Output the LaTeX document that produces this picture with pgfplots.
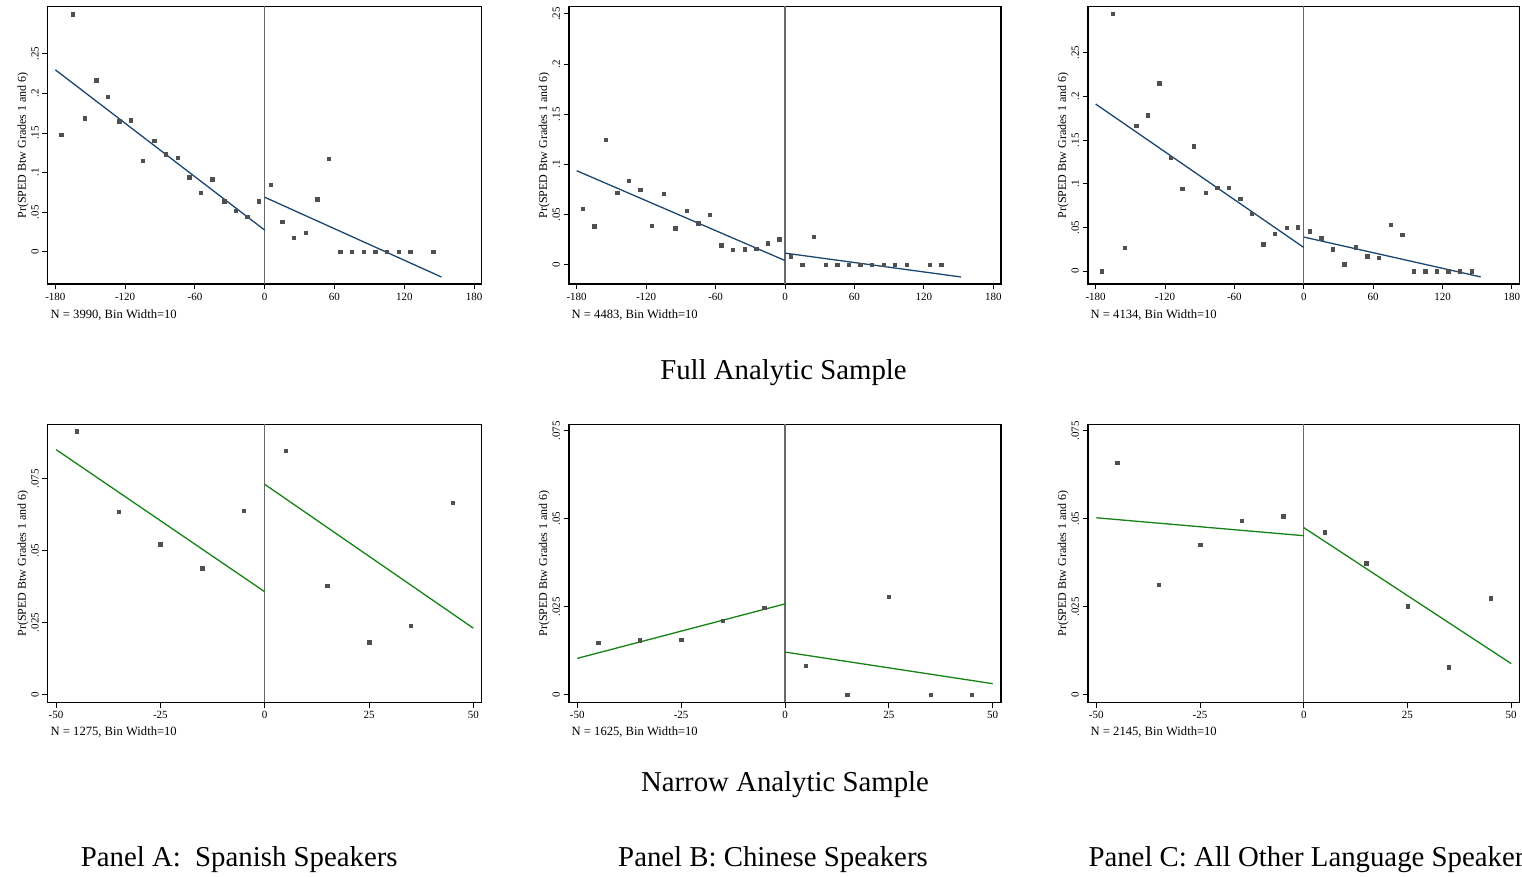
\documentclass[border=0pt]{standalone}
\usepackage{fontspec}
\setmainfont{Liberation Serif}
\usepackage{pgfplots}
\pgfplotsset{compat=1.18}
\definecolor{stnavy}{RGB}{26,71,111}
\definecolor{stgreen}{RGB}{20,130,20}
\definecolor{mk}{RGB}{80,80,80}
\definecolor{vl}{RGB}{105,105,105}
\pgfplotsset{
  rd/.style={
    scale only axis,
    anchor=south west,
    axis line style={black, line width=1.2pt},
    tick style={black, line width=1pt},
    tick align=outside,
    major tick length=5.5pt,
    xtick pos=bottom, ytick pos=left,
    scaled x ticks=false, scaled y ticks=false,
    ticklabel style={font=\fontsize{11}{13}\selectfont},
    yticklabel style={rotate=90, anchor=south},
    ylabel={Pr(SPED Btw Grades 1 and 6)},
    ylabel style={font=\fontsize{12}{14}\selectfont},
    ylabel shift=-4pt,
    clip=true,
  },
  top/.style={rd, xmin=-186.6, xmax=186.6,
    xtick={-180,-120,-60,0,60,120,180},
    xticklabels={-180,-120,-60,0,60,120,180},
    ytick={0,0.05,0.1,0.15,0.2,0.25},
    yticklabels={0,.05,.1,.15,.2,.25}},
  bot/.style={rd, xmin=-52, xmax=52,
    xtick={-50,-25,0,25,50},
    xticklabels={-50,-25,0,25,50},
    ytick={0,0.025,0.05,0.075},
    yticklabels={0,.025,.05,.075}},
  dots/.style={only marks, mark=square*, mark size=1.7pt, mark options={fill=mk, draw=mk}},
  fitb/.style={no marks, color=stnavy, line width=1.3pt},
  fitg/.style={no marks, color=stgreen, line width=1.3pt},
}
\newcommand{\cutline}{\draw[vl, line width=1.1pt] ({axis cs:0,0}|-{rel axis cs:0,0}) -- ({axis cs:0,0}|-{rel axis cs:0,1});}
\begin{document}
\begin{tikzpicture}[x=1pt,y=1pt]
\useasboundingbox (0,0) rectangle (1522,877);
% ---------- Panel 1 ----------
\begin{axis}[top, at={(47.7pt,593pt)}, width=434pt, height=277.5pt, ymin=-0.0407, ymax=0.3098]
\cutline
\addplot[dots] coordinates {(-175,0.148)(-165,0.300)(-155,0.1685)(-145,0.2168)(-135,0.1958)(-125,0.165)(-115,0.1664)(-105,0.1151)(-95,0.1403)(-85,0.1231)(-75,0.1189)(-65,0.0941)(-55,0.0748)(-45,0.0916)(-35,0.0639)(-25,0.0521)(-15,0.0441)(-5,0.0639)(5,0.0849)(15,0.0378)(25,0.0181)(35,0.0239)(45,0.0664)(55,0.1176)(65,0)(75,0)(85,0)(95,0)(105,0)(115,0)(125,0)(145,0)};
\addplot[fitb] coordinates {(-180,0.2298)(0,0.0273)};
\addplot[fitb] coordinates {(0,0.0689)(152,-0.0319)};
\end{axis}
% ---------- Panel 2 ----------
\begin{axis}[top, at={(569pt,593pt)}, width=432pt, height=277.5pt, ymin=-0.0194, ymax=0.2574]
\cutline
\addplot[dots] coordinates {(-175,0.0555)(-165,0.0381)(-155,0.1247)(-145,0.0719)(-135,0.0836)(-125,0.0745)(-115,0.0388)(-105,0.0709)(-95,0.0364)(-85,0.0535)(-75,0.0414)(-65,0.0495)(-55,0.0194)(-45,0.0147)(-35,0.0154)(-25,0.0157)(-15,0.0214)(-5,0.0251)(5,0.0084)(15,0)(25,0.0277)(35,0)(45,0)(55,0)(65,0)(75,0)(85,0)(95,0)(105,0)(125,0)(135,0)};
\addplot[fitb] coordinates {(-180,0.0936)(0,0.0040)};
\addplot[fitb] coordinates {(0,0.0114)(152,-0.0124)};
\end{axis}
% ---------- Panel 3 ----------
\begin{axis}[top, at={(1088pt,593pt)}, width=431.5pt, height=277.5pt, ymin=-0.0146, ymax=0.3029]
\cutline
\addplot[dots] coordinates {(-175,0)(-165,0.2945)(-155,0.0268)(-145,0.1668)(-135,0.1783)(-125,0.2151)(-115,0.1296)(-105,0.0943)(-95,0.1430)(-85,0.0897)(-75,0.0955)(-65,0.0959)(-55,0.0832)(-45,0.0660)(-35,0.0311)(-25,0.0426)(-15,0.0495)(-5,0.0506)(5,0.0460)(15,0.0376)(25,0.0253)(35,0.0081)(45,0.0276)(55,0.0173)(65,0.0157)(75,0.0529)(85,0.0418)(95,0)(105,0)(115,0)(125,0)(135,0)(145,0)};
\addplot[fitb] coordinates {(-180,0.1913)(0,0.0272)};
\addplot[fitb] coordinates {(0,0.0391)(153,-0.0065)};
\end{axis}
% ---------- Panel 4 ----------
\begin{axis}[bot, at={(47.7pt,174.7pt)}, width=434pt, height=278pt, ymin=-0.0028, ymax=0.0940]
\cutline
\addplot[dots] coordinates {(-45,0.0916)(-35,0.0635)(-25,0.0523)(-15,0.0439)(-5,0.0640)(5,0.0849)(15,0.0377)(25,0.0181)(35,0.0238)(45,0.0667)};
\addplot[fitg] coordinates {(-50,0.0852)(0,0.0357)};
\addplot[fitg] coordinates {(0,0.0731)(50,0.0230)};
\end{axis}
% ---------- Panel 5 ----------
\begin{axis}[bot, at={(569pt,174.7pt)}, width=432pt, height=278pt, ymin=-0.0022, ymax=0.0769]
\cutline
\addplot[dots] coordinates {(-45,0.0147)(-35,0.0155)(-25,0.0156)(-15,0.0210)(-5,0.0248)(5,0.0082)(15,0)(25,0.0278)(35,0)(45,0)};
\addplot[fitg] coordinates {(-50,0.0103)(0,0.0258)};
\addplot[fitg] coordinates {(0,0.0121)(50,0.0031)};
\end{axis}
% ---------- Panel 6 ----------
\begin{axis}[bot, at={(1088pt,174.7pt)}, width=431.5pt, height=278pt, ymin=-0.0022, ymax=0.0769]
\cutline
\addplot[dots] coordinates {(-45,0.0659)(-35,0.0312)(-25,0.0426)(-15,0.0495)(-5,0.0508)(5,0.0462)(15,0.0374)(25,0.0251)(35,0.0078)(45,0.0274)};
\addplot[fitg] coordinates {(-50,0.0503)(0,0.0452)};
\addplot[fitg] coordinates {(0,0.0475)(50,0.0088)};
\end{axis}
% ---------- notes ----------
\begin{scope}[every node/.style={font=\fontsize{12.6}{14}\selectfont, inner sep=0pt, anchor=base west}]
\node at (50.5,558.5) {N = 3990, Bin Width=10};
\node at (571.5,558.5) {N = 4483, Bin Width=10};
\node at (1090.5,558.5) {N = 4134, Bin Width=10};
\node at (50.5,141) {N = 1275, Bin Width=10};
\node at (571.5,141) {N = 1625, Bin Width=10};
\node at (1090.5,141) {N = 2145, Bin Width=10};
\end{scope}
\begin{scope}[every node/.style={font=\fontsize{28.8}{32}\selectfont, inner sep=0pt}]
\node[anchor=base] at (783.5,497) {Full Analytic Sample};
\node[anchor=base] at (785,85) {Narrow Analytic Sample};
\node[anchor=base] at (239.2,10) {Panel A:\ \ Spanish Speakers};
\node[anchor=base] at (773,10) {Panel B: Chinese Speakers};
\node[anchor=base west] at (1088.3,10) {Panel C: All Other Language Speakers};
\end{scope}
\end{tikzpicture}
\end{document}
